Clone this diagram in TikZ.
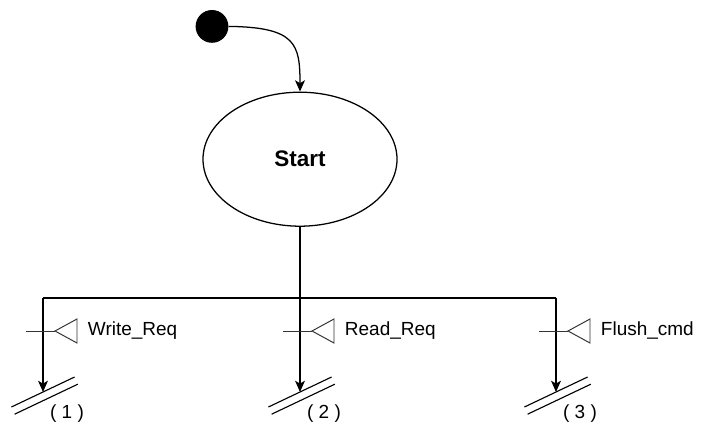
\documentclass[tikz,border=0pt]{standalone}
\usepackage{fontspec}
\setmainfont{Liberation Sans}
\usetikzlibrary{shapes, arrows.meta, positioning}

\begin{document}
\begin{tikzpicture}[
        every node/.style={font=\fontsize{13.5}{16}\selectfont},
        wire/.style={line width=0.9pt},
        flow/.style={wire, -{Stealth[length=8pt, width=7pt, inset=2pt]}},
        sig/.style={line width=0.7pt, draw=black!80},
        bar/.style={line width=0.8pt}
    ]
        \useasboundingbox (0, 0) rectangle (17.55, 10.7);

        \node[circle, fill=black, minimum size=0.82cm, inner sep=0] (init) at (5.30, 10.04) {};
        \node[ellipse, draw, wire, minimum width=4.85cm, minimum height=3.35cm, font=\fontsize{16}{19}\selectfont\bfseries] (start) at (7.5, 6.72) {Start};

        \coordinate (fork) at (7.5, 3.25);
        \coordinate (left) at (1.075, 3.25);
        \coordinate (right) at (13.9, 3.25);
        \coordinate (end1) at (1.075, 0.9);
        \coordinate (end2) at (7.5, 0.9);
        \coordinate (end3) at (13.9, 0.9);

        % signal stubs and triangles
        \coordinate (s1) at (0.65, 2.425);
        \coordinate (t1) at (1.375, 2.425);
        \coordinate (b1) at (1.925, 2.425);
        \coordinate (s2) at (7.075, 2.425);
        \coordinate (t2) at (7.8, 2.425);
        \coordinate (b2) at (8.35, 2.425);
        \coordinate (s3) at (13.475, 2.425);
        \coordinate (t3) at (14.2, 2.425);
        \coordinate (b3) at (14.75, 2.425);

        \node[right=0.15cm of b1] (write) {Write\_Req};
        \node[right=0.15cm of b2] (read) {Read\_Req};
        \node[right=0.15cm of b3] (flush) {Flush\_cmd};

        \node (lab1) at (1.675, 0.36) {( 1 )};
        \node (lab2) at (8.1, 0.36) {( 2 )};
        \node (lab3) at (14.5, 0.36) {( 3 )};

        \draw[flow] (init.east) .. controls (7.4, 10.02) and (7.5, 9.6) .. (start.north);
        \draw[wire] (start.south) to (fork);
        \draw[wire] (left) to (right);
        \draw[flow] (left) to (end1);
        \draw[flow] (fork) to (end2);
        \draw[flow] (right) to (end3);

        \draw[sig] (s1) to (t1)
            (s2) to (t2)
            (s3) to (t3);
        \draw[sig] (t1) -- ++(0.55, 0.3) -- ++(0, -0.6) -- cycle
            (t2) -- ++(0.55, 0.3) -- ++(0, -0.6) -- cycle
            (t3) -- ++(0.55, 0.3) -- ++(0, -0.6) -- cycle;

        % double bars at the ends
        \draw[bar] (end1) ++(-0.79, -0.375) -- ++(1.58, 0.75)
            (end1) ++(-0.71, -0.555) -- ++(1.58, 0.75);
        \draw[bar] (end2) ++(-0.79, -0.375) -- ++(1.58, 0.75)
            (end2) ++(-0.71, -0.555) -- ++(1.58, 0.75);
        \draw[bar] (end3) ++(-0.79, -0.375) -- ++(1.58, 0.75)
            (end3) ++(-0.71, -0.555) -- ++(1.58, 0.75);
    \end{tikzpicture}
\end{document}
